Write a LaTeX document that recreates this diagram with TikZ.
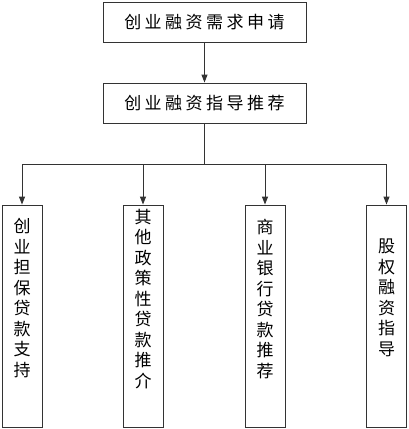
\documentclass[tikz,border=0pt]{standalone}
\usepackage{fontspec}
\newfontfamily\cjk{Noto Sans CJK SC}
\usetikzlibrary{arrows.meta}
\newcommand{\gp}{\hspace{3.5pt}}
\begin{document}
\begin{tikzpicture}[x=1pt,y=-1pt,
  box/.style={draw=black!80, line width=0.9pt, minimum width=203pt, minimum height=40pt, inner sep=0pt,
    font={\cjk\fontsize{17}{19}\selectfont}},
  vbox/.style={draw=black!80, line width=0.9pt, minimum width=40pt, minimum height=222pt, inner sep=0pt},
  vtext/.style={align=center, inner sep=0pt, font={\cjk\fontsize{17}{20.5}\selectfont}},
  conn/.style={draw=black!80, line width=0.9pt},
  arr/.style={conn, -{Triangle[length=8pt, width=6pt]}}]
\useasboundingbox (0,0) rectangle (409,429);
\node[box] (a) at (204.5,22) {创\gp 业\gp 融\gp 资\gp 需\gp 求\gp 申\gp 请};
\node[box] (b) at (204.5,103) {创\gp 业\gp 融\gp 资\gp 指\gp 导\gp 推\gp 荐};
\node[vbox] (c1) at (22,316) {};
\node[vbox] (c2) at (143,316) {};
\node[vbox] (c3) at (265,316) {};
\node[vbox] (c4) at (386.5,316) {};
\node[vtext] at (22,298) {创\\业\\担\\保\\贷\\款\\支\\持};
\node[vtext] at (143,299) {其\\他\\政\\策\\性\\贷\\款\\推\\介};
\node[vtext] at (265,299) {商\\业\\银\\行\\贷\\款\\推\\荐};
\node[vtext] at (386.5,298) {股\\权\\融\\资\\指\\导};
\coordinate (j) at (204.5,164);
\draw[arr] (a) -- (b);
\draw[conn] (b) -- (j);
\draw[conn] (c1 |- j) -- (c4 |- j);
\draw[arr] (c1 |- j) -- (c1);
\draw[arr] (c2 |- j) -- (c2);
\draw[arr] (c3 |- j) -- (c3);
\draw[arr] (c4 |- j) -- (c4);
\end{tikzpicture}
\end{document}
